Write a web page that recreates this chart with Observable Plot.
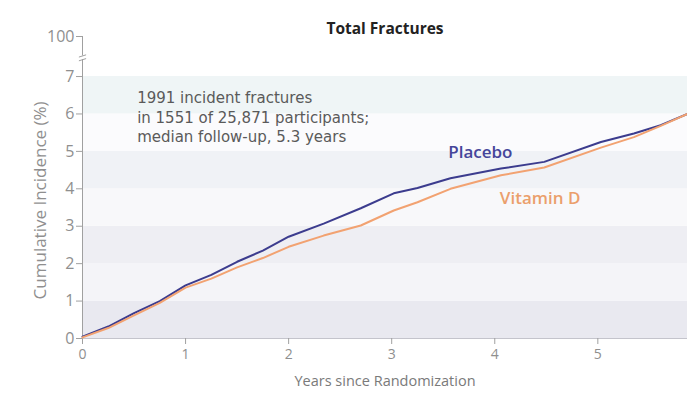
<!DOCTYPE html>
<html>
<head>
<meta charset="utf-8">
<script src="https://cdn.jsdelivr.net/npm/d3@7"></script>
<script src="https://cdn.jsdelivr.net/npm/@observablehq/plot@0.6"></script>
<style>
  html, body { margin: 0; padding: 0; background: #fff; }
  #chart svg { display: block; }
</style>
</head>
<body>
<div id="chart"></div>
<script>
// ---- data ----
const years   = [0, 0.25, 0.5, 0.75, 1, 1.25, 1.5, 1.75, 2, 2.34, 2.7, 3.02, 3.25, 3.57, 4.06, 4.48, 5.03, 5.35, 5.61, 5.87];
const placebo = [0.05, 0.32, 0.68, 1.0, 1.42, 1.7, 2.05, 2.35, 2.72, 3.07, 3.48, 3.88, 4.02, 4.28, 4.54, 4.72, 5.25, 5.48, 5.7, 6.0];
const vitaminD = [0.03, 0.28, 0.62, 0.95, 1.36, 1.6, 1.9, 2.15, 2.45, 2.75, 3.02, 3.42, 3.64, 4.0, 4.36, 4.57, 5.1, 5.38, 5.68, 6.0];

const xTicks = [0, 1, 2, 3, 4, 5];
const yTicks = [0, 1, 2, 3, 4, 5, 6, 7];
const yTopTick = 8.07;          // position standing in for the "100" label above the axis break
const yTopLabel = "100";
const axisBreak = [7.45, 7.55];

const bandLo = [0, 1, 2, 3, 4, 5, 6];
const bandColors = ["#e9e9f0", "#f4f4f8", "#eeeef3", "#f8f8fa", "#f0f2f6", "#fbfbfd", "#eff5f6"];

const title = "Total Fractures";
const xLabel = "Years since Randomization";
const yLabel = "Cumulative Incidence (%)";
const note = "1991 incident fractures\nin 1551 of 25,871 participants;\nmedian follow-up, 5.3 years";
const notePos = {x: 0.53, y: 6.66};
const yLabelPos = {x: -0.41, y: 3.69};
const seriesLabels = [
  {name: "Placebo", x: 3.86, y: 4.97, color: "#45459a"},
  {name: "Vitamin D", x: 4.44, y: 3.74, color: "#eb9f6c"}
];

const rows = [];
years.forEach((t, i) => {
  rows.push({t, v: placebo[i], s: "Placebo"});
  rows.push({t, v: vitaminD[i], s: "Vitamin D"});
});
const bands = bandLo.map((lo, i) => ({y1: lo, y2: lo + 1, c: bandColors[i]}));

const font = "'Open Sans', sans-serif";
const gray = "#8f8f8f";

const chart = Plot.plot({
  width: 687,
  height: 402,
  marginLeft: 82,
  marginRight: 0,
  marginTop: 36,
  marginBottom: 64,
  style: {fontFamily: font, background: "#fff"},
  x: {domain: [0, years[years.length - 1]]},
  y: {domain: [0, yTopTick]},
  marks: [
    Plot.rect(bands, {y1: "y1", y2: "y2", fill: "c"}),
    Plot.ruleY([0], {stroke: "#c4c4cc", strokeWidth: 1}),
    // y axis line with a break
    Plot.ruleX([0], {y1: 0, y2: axisBreak[0], stroke: "#a0a0a0"}),
    Plot.ruleX([0], {y1: axisBreak[1], y2: yTopTick, stroke: "#a0a0a0"}),
    Plot.link(axisBreak, {x1: -0.035, x2: 0.035, y1: d => d - 0.03, y2: d => d + 0.03, stroke: "#a0a0a0"}),
    Plot.axisY([...yTicks, yTopTick], {
      tickSize: 6, stroke: "#a0a0a0", fill: gray, fontSize: 16, tickPadding: 2,
      tickFormat: d => d === yTopTick ? yTopLabel : String(d), label: null
    }),
    Plot.axisX(xTicks, {tickSize: 6, stroke: "#a0a0a0", fill: gray, fontSize: 14, label: null, tickPadding: 5}),
    // lines
    Plot.line(rows, {x: "t", y: "v", z: "s", stroke: d => d.s === "Placebo" ? "#3c3c8e" : "#f2a271", strokeWidth: 2, curve: "linear"}),
    // labels
    Plot.text(seriesLabels, {x: "x", y: "y", text: "name", fill: "color", fontSize: 17, fontWeight: "600"}),
    Plot.text([note], {x: notePos.x, y: notePos.y, text: d => d, textAnchor: "start", lineAnchor: "top", lineHeight: 1.3, fontSize: 15, fontFamily: "'DejaVu Sans', sans-serif", fill: "#5a5a5a"}),
    Plot.text([title], {frameAnchor: "top", dy: -14, text: d => d, fontSize: 15.5, fontWeight: "bold", fill: "#222"}),
    Plot.text([xLabel], {frameAnchor: "bottom", dy: 47, text: d => d, fontSize: 14.5, fill: "#7a7a7a"}),
    Plot.text([yLabel], {x: yLabelPos.x, y: yLabelPos.y, rotate: -90, text: d => d, fontSize: 17, fill: gray})
  ]
});
document.getElementById("chart").appendChild(chart);
</script>
</body>
</html>
